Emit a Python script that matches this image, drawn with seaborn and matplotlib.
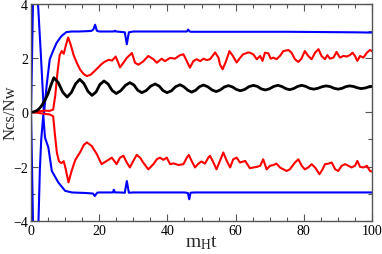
import matplotlib
matplotlib.use("Agg")
import matplotlib.pyplot as plt
import seaborn as sns
from matplotlib.ticker import MultipleLocator

# ---------------- data ----------------
black_t = [0, 1, 2, 3, 4, 5, 5.8, 6.7, 8.0, 9.3, 10.6, 11.8, 13.1, 14.3, 15.5, 16.7, 17.9,
           19.1, 20.2, 21.4, 22.6, 23.8, 25.0, 26.3, 27.7, 29.0, 30.2, 31.3, 32.5, 33.8, 35.1,
           36.4, 37.6, 38.7, 39.9, 41.2, 42.4, 43.7, 44.8, 46.0, 47.1, 48.3, 49.4, 50.6, 51.8,
           53.1, 54.3, 55.5, 56.7, 57.9, 59.1, 60.2, 61.4, 62.7, 63.9, 65.2, 66.4, 67.5, 68.7,
           69.9, 71.2, 72.4, 73.5, 74.7, 75.8, 77.0, 78.2, 79.4, 80.6, 81.7, 82.9, 84.1, 85.4,
           86.6, 87.8, 88.9, 90.1, 91.2, 92.3, 93.4, 94.5, 95.7, 96.8, 97.9, 99.0, 100]
black_v = [0, 0.02, 0.08, 0.22, 0.42, 0.68, 0.98, 1.27, 1.09, 0.74, 0.56, 0.72, 1.05, 1.21, 1.06, 0.77, 0.62,
           0.75, 1.02, 1.15, 1.04, 0.80, 0.69, 0.79, 0.99, 1.09, 1.00, 0.81, 0.72, 0.80, 0.96,
           1.04, 0.96, 0.80, 0.72, 0.79, 0.94, 1.01, 0.94, 0.81, 0.74, 0.81, 0.94, 1.00, 0.94,
           0.82, 0.76, 0.82, 0.93, 0.98, 0.93, 0.84, 0.79, 0.84, 0.94, 0.99, 0.95, 0.86, 0.82,
           0.86, 0.95, 0.99, 0.95, 0.87, 0.83, 0.87, 0.95, 0.99, 0.95, 0.88, 0.85, 0.88, 0.94,
           0.97, 0.94, 0.88, 0.85, 0.88, 0.94, 0.97, 0.95, 0.90, 0.87, 0.89, 0.93, 0.95]

blue_up_t = [0, 0.3, 0.6, 1.0, 1.5, 2.05, 2.9, 3.8, 4.6, 5.5, 6.45, 7.5, 8.9, 10.4, 12, 14, 16,
             17.7, 18.3, 18.8, 19.3, 20, 22, 24.3, 24.6, 24.9, 26, 27.5, 28.1, 28.7, 30, 35, 40,
             45, 45.7, 46.1, 46.5, 47, 55, 65, 75, 85, 95, 100]
blue_up_v = [0, 2.0, 4.2, 6.5, 7.0, 4.0, 2.1, -0.05, 1.0, 1.95, 2.25, 2.55, 2.8, 2.95, 2.97, 2.97, 2.98,
             2.99, 3.05, 3.22, 3.0, 2.97, 2.97, 2.97, 3.0, 2.97, 2.96, 2.94, 2.5, 2.94, 2.97, 2.97, 2.97,
             2.97, 2.97, 3.04, 2.97, 2.96, 2.96, 2.96, 2.96, 2.95, 2.94, 2.93]

blue_lo_t = [0, 0.3, 0.6, 1.0, 1.5, 2.2, 2.6, 3.0, 3.6, 4.1, 5.1, 6.1, 8.0, 10.0, 12, 14, 16,
             18.2, 18.7, 19.4, 20, 22, 24.0, 24.3, 24.6, 26, 27.5, 28.1, 28.7, 30, 35, 40, 45,
             46.0, 46.4, 46.8, 48, 55, 65, 75, 85, 95, 100]
blue_lo_v = [0, -2.0, -4.2, -6.5, -7.0, -4.0, -2.1, -1.0, -0.1, -0.93, -1.3, -2.16, -2.58, -2.89, -2.95, -2.96, -2.97,
             -2.99, -3.08, -2.96, -2.95, -2.95, -2.95, -2.85, -2.95, -2.95, -2.96, -2.53, -2.96, -2.95, -2.95, -2.95, -2.95,
             -2.97, -3.2, -2.96, -2.95, -2.95, -2.95, -2.95, -2.95, -2.95, -2.95]

red_up_t = [0, 2, 4, 5.5, 6.5, 7.1, 7.8, 8.4, 9.0, 9.6, 10.2, 10.9, 11.6, 12.5, 13.5, 14.5, 15.5,
            16.4, 17.5, 18.5, 19.5, 20.5, 21.5, 22.8, 23.8, 24.8, 25.5,
            26.1, 27.1, 28.1, 29.6, 30.5, 31.5, 32.9, 34.4, 35.9, 36.9, 38.3, 39.3, 40.8, 42.2,
            43.7, 44.7, 45.7, 46.6, 47.6, 48.6, 49.6, 50.6, 51.5, 52.5, 54.0, 55.0, 55.4, 56.2,
            57.2, 58.2, 59.2, 60.3, 61.3, 62.2, 63.7,
            64.2, 65.2, 66.2, 67.2, 67.9, 68.6, 69.6, 70.3, 71.1, 72.0, 73.0, 74.0, 75.5, 76.4,
            77.4, 78.4, 79.3, 80.3, 81.3, 82.3, 83.3, 84.3, 85.2, 86.2, 86.9, 87.7, 88.7, 89.6,
            90.6, 91.6, 92.6, 93.5, 94.3, 95.0, 95.7, 96.5, 97.5, 98.5, 99.4, 100]
red_up_v = [0, 0.03, 0.06, 0.05, 0.1, 0.6, 1.5, 2.1, 2.25, 2.15, 2.45, 2.75, 2.5, 2.1, 1.8, 1.55, 1.4,
            1.33, 1.38, 1.5, 1.62, 1.75, 1.85, 1.93, 1.9, 2.05, 1.85,
            1.65, 1.82, 2.0, 2.18, 1.82, 1.75, 1.87, 2.07, 1.95, 1.82, 1.97, 1.88, 2.0, 1.97,
            2.1, 2.13, 1.88, 1.64, 1.88, 1.95, 1.88, 1.97, 1.92, 1.95, 2.2, 2.0, 1.76, 1.58,
            1.88, 2.25, 2.07, 1.83, 2.0, 2.13, 2.2,
            2.19, 2.13, 1.95, 2.07, 1.89, 2.19, 2.17, 1.97, 2.01, 1.95, 2.07, 2.25, 2.29, 2.19,
            1.95, 1.85, 1.97, 2.25, 2.07, 1.95, 2.19, 2.32, 2.07, 1.95, 2.10, 1.97, 2.01, 2.22,
            2.01, 2.07, 2.05, 2.10, 2.19, 2.07, 1.89, 2.07, 2.01, 2.19, 2.29, 2.25]

red_lo_t = [0, 2, 4, 5.5, 6.5, 7.0, 7.6, 8.2, 8.9, 9.6, 10.2, 11.0, 11.9, 13.0, 14.5, 15.5, 16.4,
            17.8, 19.3, 20.7, 22.2, 23.7, 25.1,
            26.1, 27.1, 28.1, 29.0, 30.0, 31.0, 32.0, 32.9, 34.4, 35.9, 36.9, 37.8, 38.8, 39.8,
            40.8, 41.8, 43.2, 44.7, 45.7, 46.3, 47.1, 48.1, 49.1, 50.0, 51.0, 52.0, 52.5, 53.5,
            54.4, 55.4, 56.4, 57.4, 58.4, 59.3, 60.3, 61.3, 62.8,
            64.2, 65.2, 66.2, 67.2, 68.1, 69.1, 70.1, 71.1, 72.0, 73.0, 74.0, 75.0, 75.9, 77.4,
            78.4, 79.4, 80.3, 81.3, 82.3, 83.3, 84.6, 85.5, 86.2, 87.2, 88.2, 89.2, 90.1, 91.1,
            92.1, 93.1, 94.0, 95.0, 95.7, 96.5, 97.5, 98.5, 99.4, 100]
red_lo_v = [0, -0.02, -0.06, -0.08, -0.15, -0.8, -1.5, -1.8, -1.87, -1.8, -2.1, -2.58, -2.16, -1.75, -1.45, -1.2, -1.11,
            -1.24, -1.54, -1.91, -1.79, -1.67, -1.91,
            -1.67, -1.60, -1.85, -2.03, -1.79, -1.57, -1.67, -1.85, -2.10, -1.91, -1.73, -1.67, -1.75, -1.67,
            -1.91, -1.88, -1.94, -1.91, -1.67, -1.57, -1.79, -2.03, -1.89, -1.81, -1.89, -1.67, -1.60, -1.85,
            -2.10, -1.79, -1.48, -1.79, -2.03, -1.73, -1.67, -1.85, -1.79,
            -2.06, -2.03, -2.01, -1.97, -1.73, -2.10, -1.97, -1.94, -1.89, -2.03, -2.10, -2.16, -2.10, -1.85,
            -1.73, -1.97, -2.10, -2.03, -1.91, -2.03, -2.28, -2.10, -1.91, -1.89, -1.85, -2.10, -2.16, -1.97,
            -1.91, -1.97, -2.03, -1.97, -1.79, -2.01, -2.03, -1.97, -2.16, -2.18]

x_ticks = [0, 20, 40, 60, 80, 100]
y_ticks = [-4, -2, 0, 2, 4]
x_label = r"$\mathregular{m_{H}t}$"
y_label = "Ncs/Nw"

# ---------------- style ----------------
sns.set_style("ticks")
plt.rcParams["font.family"] = ["Liberation Serif", "DejaVu Serif"]
plt.rcParams["mathtext.fontset"] = "custom"
plt.rcParams["mathtext.rm"] = "Liberation Serif"
plt.rcParams["mathtext.it"] = "Liberation Serif:italic"

fig = plt.figure(figsize=(3.82, 2.55), dpi=100)
ax = fig.add_axes([31 / 382, 1 - 222 / 255, 341 / 382, 217.5 / 255])

for t, v in [(blue_up_t, blue_up_v), (blue_lo_t, blue_lo_v)]:
    sns.lineplot(x=t, y=v, ax=ax, color="#0000ff", linewidth=1.5, estimator=None, sort=False)
for t, v in [(red_up_t, red_up_v), (red_lo_t, red_lo_v)]:
    sns.lineplot(x=t, y=v, ax=ax, color="#ff0000", linewidth=1.5, estimator=None, sort=False)
sns.lineplot(x=black_t, y=black_v, ax=ax, color="black", linewidth=2.0, estimator=None, sort=False)

ax.set_xlim(0, 100)
ax.set_ylim(-4, 4)
ax.set_xticks(x_ticks)
ax.set_yticks(y_ticks)
ax.xaxis.set_minor_locator(MultipleLocator(5))
ax.yaxis.set_minor_locator(MultipleLocator(1))
ax.tick_params(which="both", direction="in", top=True, right=True, colors="#555555",
               labelcolor="black", labelsize=10)
ax.tick_params(which="major", length=5, width=0.8, pad=2)
ax.tick_params(which="minor", length=3, width=0.8)
for s in ax.spines.values():
    s.set_color("#555555")
    s.set_linewidth(1.0)
ax.set_xlabel(x_label, fontsize=14)
ax.set_ylabel(y_label, fontsize=12)
ax.xaxis.set_label_coords(0.5, -0.055)
ax.yaxis.set_label_coords(-0.036, 0.5)

fig.savefig("out.png", dpi=100)
